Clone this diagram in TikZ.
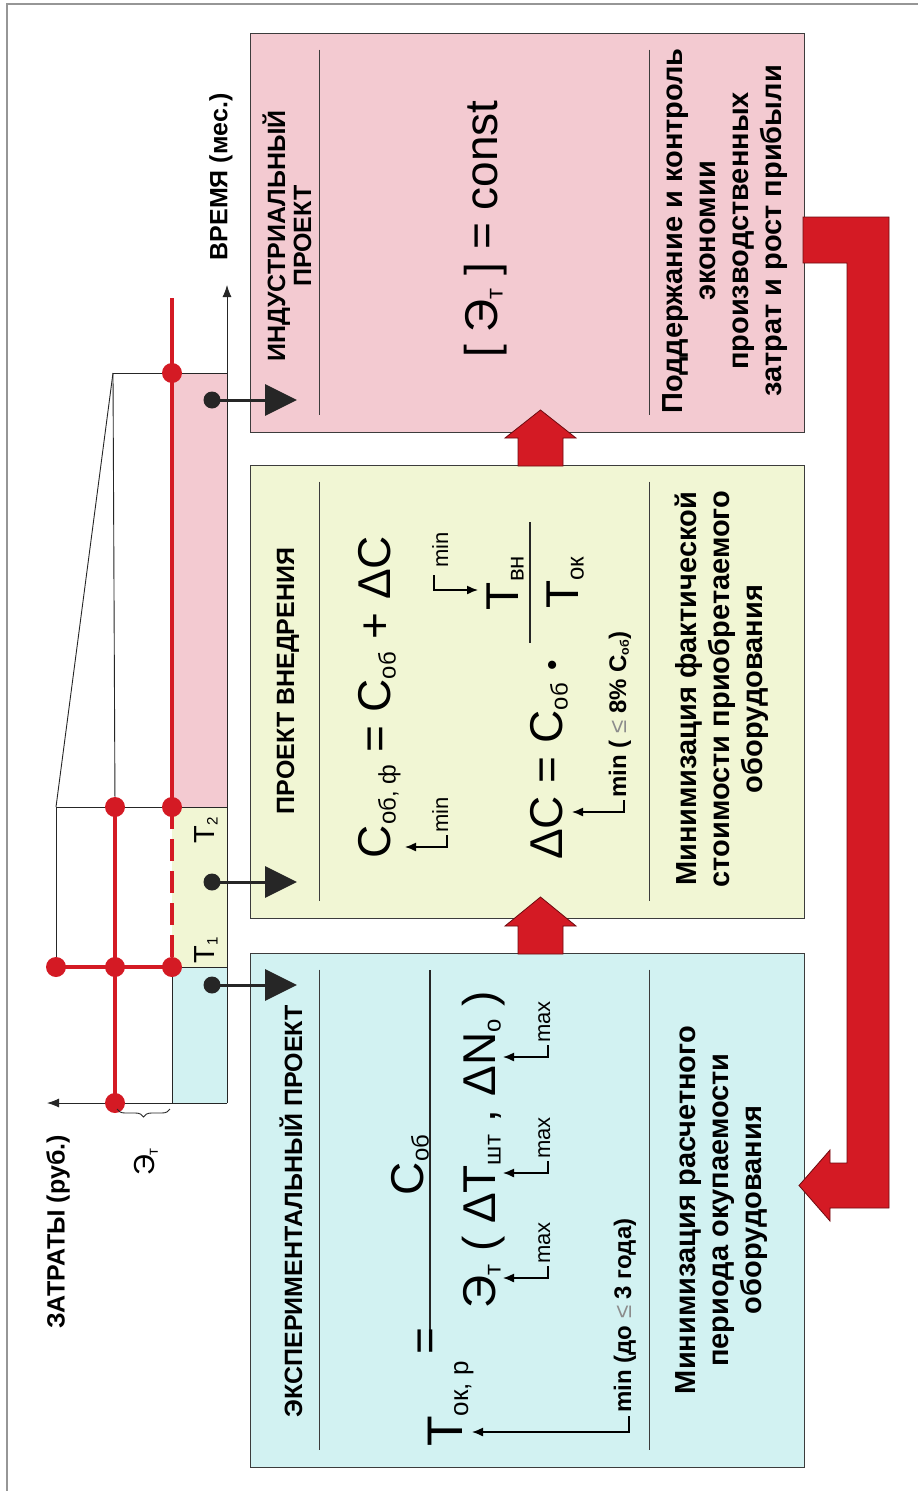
\documentclass[tikz,border=0pt]{standalone}
\usepackage{fontspec}
\usepackage{graphicx}
\setmainfont{Liberation Sans}
\usetikzlibrary{arrows.meta,decorations.pathreplacing}
\definecolor{pinkbox}{RGB}{243,202,209}
\definecolor{greenbox}{RGB}{241,246,212}
\definecolor{bluebox}{RGB}{210,242,242}
\definecolor{redc}{RGB}{212,26,36}
\definecolor{darkred}{RGB}{110,10,15}
\definecolor{framec}{RGB}{150,150,150}
\definecolor{boxline}{RGB}{60,60,60}
\newcommand\sbs[1]{\raisebox{-0.12em}{\scalebox{0.52}{#1}}}
\begin{document}
\begin{tikzpicture}[x=1pt,y=-1pt,
  box/.style={draw=boxline,line width=0.8pt,minimum width=554pt,inner sep=0pt},
  sep/.style={draw=boxline,line width=0.9pt},
  rt/.style={rotate=90,inner sep=0pt},
  ttl/.style={rt,font=\bfseries\fontsize{25}{26}\selectfont,align=center},
  btxt/.style={rt,font=\bfseries\fontsize{29}{33}\selectfont,align=center},
  fml/.style={rt,font=\fontsize{46}{50}\selectfont,anchor=base},
  lbl/.style={rt,font=\fontsize{22}{24}\selectfont,anchor=base west},
  blbl/.style={rt,font=\bfseries\fontsize{24}{26}\selectfont,anchor=base west},
  marr/.style={draw=black,line width=1.4pt,-{Latex[length=11pt,width=9pt]}},
  redl/.style={draw=redc,line width=4.5pt},
  reddot/.style={circle,fill=redc,minimum size=20pt,inner sep=0pt},
  blkdot/.style={circle,fill=black!85,minimum size=17pt,inner sep=0pt},
  bigarr/.style={draw=black!85,line width=3pt,-{Triangle[length=32pt,width=31pt]}},
  redarr/.style={fill=redc,draw=darkred,line width=0.8pt},
  thinl/.style={draw=black!85,line width=0.9pt},
  axis/.style={draw=black!85,line width=0.9pt,-{Latex[length=12pt,width=9pt]}},
  fbar/.style={draw=black!85,line width=1.3pt},
  small/.style={rt,font=\fontsize{29}{31}\selectfont}]
\useasboundingbox (0,0) rectangle (918,1491);
\fill[white] (0,0) rectangle (918,1491);
\draw[framec,line width=1.5pt] (7,1491) -- (7,4) -- (918,4);

% ---------- boxes ----------
\node[box,fill=pinkbox,minimum height=399pt] (pink) at (527,232.5) {};
\node[box,fill=greenbox,minimum height=453pt] (green) at (527,691.5) {};
\node[box,fill=bluebox,minimum height=514pt] (blue) at (527,1210) {};
\foreach \b in {pink,green,blue}{
  \draw[sep] ([shift={(70pt,-17pt)}]\b.north west) -- ([shift={(70pt,17pt)}]\b.south west);
  \draw[sep] ([shift={(400pt,-17pt)}]\b.north west) -- ([shift={(400pt,17pt)}]\b.south west);
}

% ---------- titles ----------
\node[ttl] (tpink) at (287,236) {ИНДУСТРИАЛЬНЫЙ\\ПРОЕКТ};
\node[ttl] (tgreen) at (288,681) {ПРОЕКТ ВНЕДРЕНИЯ};
\node[ttl] (tblue) at (291,1211) {ЭКСПЕРИМЕНТАЛЬНЫЙ ПРОЕКТ};

% ---------- bottom texts ----------
\node[btxt] (bpink) at (725,231) {Поддержание и контроль\\экономии\\производственных\\затрат и рост прибыли};
\node[btxt] (bgreen) at (722,689) {Минимизация фактической\\стоимости приобретаемого\\оборудования};
\node[btxt] (bblue) at (722,1210) {Минимизация расчетного\\периода окупаемости\\оборудования};

% ---------- pink formula ----------
\node[fml] (fpink) at (497,229) {[ Э\sbs{т} ] = const};

% ---------- green formulas ----------
\node[fml] (fg1) at (390,697) {C\sbs{об, ф} = C\sbs{об} + ΔC};
\node[fml,anchor=base west] (fg2) at (562,860) {ΔC = C\sbs{об}\;{\fontsize{30}{30}\selectfont •}};
\draw[fbar] (530,522) -- (530,643);
\node[fml] (fgnum) at (518,583) {T\sbs{вн}};
\node[fml] (fgden) at (578,583) {T\sbs{ок}};
% arrows green
\coordinate (ga1t) at (405,847);
\draw[marr] (447,835) -- (447,847) -- (ga1t);
\node[lbl] (ga1l) at (448,833) {min};
\coordinate (ga2t) at (478,590);
\draw[marr] (434,575) -- (434,590) -- (ga2t);
\node[lbl] (ga2l) at (448,568) {min};
\coordinate (ga3t) at (572,812);
\draw[marr] (624,800) -- (624,812) -- (ga3t);
\node[blbl] (ga3l) at (626,798) {min ( \textcolor{black!45}{\mdseries ≤} 8\% C\sbs{об})};

% ---------- blue formulas ----------
\draw[fbar] (430,970) -- (430,1345);
\node[fml] (fbnum) at (423,1165) {C\sbs{об}};
\node[fml] (fbden) at (495,1150) {Э\sbs{т} ( ΔT\sbs{шт} , ΔN\sbs{о} )};
\node[fml,font=\fontsize{50}{54}\selectfont] (fbT) at (462,1404) {T\sbs{ок, р}};
\node[fml] (fbeq) at (440,1341) {=};
\coordinate (ba1t) at (503,1278);
\draw[marr] (548,1266) -- (548,1278) -- (ba1t);
\node[lbl] (ba1l) at (550,1264) {max};
\coordinate (ba2t) at (503,1173);
\draw[marr] (548,1161) -- (548,1173) -- (ba2t);
\node[lbl] (ba2l) at (550,1159) {max};
\coordinate (ba3t) at (503,1057);
\draw[marr] (548,1045) -- (548,1057) -- (ba3t);
\node[lbl] (ba3l) at (550,1043) {max};
\coordinate (ba4t) at (472,1432);
\draw[marr] (629,1416) -- (629,1432) -- (ba4t);
\node[blbl] (ba4l) at (631,1413) {min (до \textcolor{black!45}{\mdseries ≤} 3 года)};

% ---------- red block arrows ----------
\draw[redarr] (518,954) -- (518,926) -- (505,926) -- (540.5,897) -- (576,926) -- (563,926) -- (563,954) -- cycle;
\draw[redarr] (518,466) -- (518,438) -- (505,438) -- (540.5,410) -- (576,438) -- (563,438) -- (563,466) -- cycle;
\draw[redarr] (803,217) -- (889,217) -- (889,1208) -- (830,1208) -- (830,1221) -- (799,1185.5) -- (830,1150) -- (830,1163) -- (847,1163) -- (847,263) -- (803,263) -- cycle;

% ---------- chart ----------
\fill[pinkbox] (172,373) rectangle (227,807);
\fill[greenbox] (172,807) rectangle (227,967);
\fill[bluebox] (172,967) rectangle (227,1103);
\coordinate (O) at (227,1103);
\coordinate (Ytip) at (227,285);
\coordinate (Xtip) at (47,1103);
\draw[axis] (O) -- (Ytip);
\draw[axis] (O) -- (Xtip);
\coordinate (A) at (113,373);
\coordinate (B) at (56,807);
\coordinate (C) at (56,967);
\coordinate (D) at (227,373);
\coordinate (E) at (227,807);
\coordinate (F) at (227,967);
\coordinate (P1) at (172,373);
\coordinate (P2) at (172,807);
\coordinate (P3) at (115,807);
\coordinate (P4) at (172,967);
\coordinate (P5) at (115,967);
\coordinate (P6) at (56,967);
\coordinate (P7) at (115,1103);
\coordinate (Rtop) at (172,298);
\draw[thinl] (A) -- (D);
\draw[thinl] (A) -- (B);
\draw[thinl] (A) -- (P3);
\draw[thinl] (B) -- (E);
\draw[thinl] (B) -- (C);
\draw[thinl] (C) -- (F);
\draw[thinl] (P4) -- (172,1103);
\draw[redl] (Rtop) -- (P2);
\draw[redl,dash pattern=on 22pt off 10pt] (P2) -- (P4);
\draw[redl] (P3) -- (P7);
\draw[redl] (P6) -- (P4);
\foreach \p in {P1,P2,P3,P4,P5,P6,P7}{\node[reddot] at (\p) {};}
\draw[thinl,decorate,decoration={brace,amplitude=8pt}] (170,1109) -- (117,1109);
\node[small] (et) at (146,1162) {Э\sbs{т}};
\node[small] (t2) at (206,830) {T\sbs{2}};
\node[small] (t1) at (206,950) {T\sbs{1}};
\node[rt,font=\bfseries\fontsize{25}{27}\selectfont] (zt) at (58,1232) {ЗАТРАТЫ (руб.)};
\node[rt,font=\bfseries\fontsize{25}{27}\selectfont] (vr) at (221,177) {ВРЕМЯ (мес.)};

% dot arrows
\node[blkdot] (d1) at (212,400) {};
\node[blkdot] (d2) at (212,882) {};
\node[blkdot] (d3) at (212,985) {};
\coordinate (e1) at (297,400);
\coordinate (e2) at (297,882);
\coordinate (e3) at (297,985);
\draw[bigarr] (d1.center) -- (e1);
\draw[bigarr] (d2.center) -- (e2);
\draw[bigarr] (d3.center) -- (e3);
\end{tikzpicture}
\end{document}
